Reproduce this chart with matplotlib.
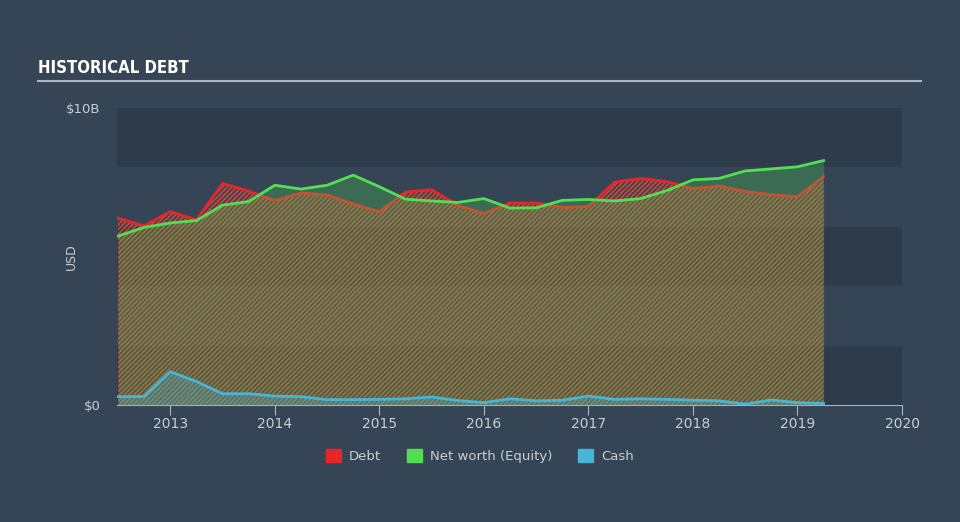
"""Historical debt chart: debt, net worth (equity) and cash, 2012-2019."""

import matplotlib

matplotlib.use("Agg")

import matplotlib.pyplot as plt
from matplotlib.patches import Patch

# quarter ends as decimal years
QUARTERS = [
    2012.50, 2012.75, 2013.00, 2013.25, 2013.50, 2013.75, 2014.00,
    2014.25, 2014.50, 2014.75, 2015.00, 2015.25, 2015.50, 2015.75,
    2016.00, 2016.25, 2016.50, 2016.75, 2017.00, 2017.25, 2017.50,
    2017.75, 2018.00, 2018.25, 2018.50, 2018.75, 2019.00, 2019.25,
]
# values in $B
DEBT = [
    6.29, 6.03, 6.51, 6.23, 7.46, 7.20, 6.88,
    7.14, 7.07, 6.77, 6.51, 7.17, 7.25, 6.72,
    6.45, 6.80, 6.80, 6.65, 6.68, 7.50, 7.63,
    7.52, 7.29, 7.37, 7.19, 7.08, 7.01, 7.69,
]
EQUITY = [
    5.69, 5.98, 6.13, 6.21, 6.73, 6.85, 7.40,
    7.27, 7.40, 7.74, 7.35, 6.93, 6.87, 6.82,
    6.95, 6.63, 6.64, 6.89, 6.92, 6.87, 6.95,
    7.22, 7.58, 7.63, 7.88, 7.95, 8.02, 8.23,
]
CASH = [
    0.28, 0.29, 1.12, 0.79, 0.38, 0.38, 0.30,
    0.28, 0.18, 0.18, 0.19, 0.21, 0.27, 0.15,
    0.08, 0.21, 0.14, 0.16, 0.30, 0.19, 0.21,
    0.19, 0.16, 0.14, 0.03, 0.17, 0.08, 0.05,
]
YEAR_TICKS = [2013, 2014, 2015, 2016, 2017, 2018, 2019, 2020]
Y_TICKS = [0, 10]
Y_TICK_LABELS = ["$0", "$10B"]

BG = "#354555"
BAND_DARK = "#2e3b4b"
TEXT = "#c8ced6"
AXIS = "#aab4c0"
RED = "#e8262a"
GREEN = "#52e052"
BLUE = "#45b5d8"


def main() -> None:
    plt.rcParams["hatch.linewidth"] = 1.0
    fig = plt.figure(figsize=(9.6, 5.22), dpi=100, facecolor=BG)
    ax = fig.add_axes([117 / 960, 117 / 522, 785 / 960, 297 / 522])
    ax.set_facecolor(BG)

    # alternating horizontal bands
    for lo in (0, 4, 8):
        ax.axhspan(lo, lo + 2, color=BAND_DARK, lw=0, zorder=0)

    ax.fill_between(QUARTERS, 0, DEBT, facecolor=(0.9, 0.15, 0.15, 0.08),
                    edgecolor=(0.95, 0.3, 0.2, 0.85), hatch="///////", lw=0, zorder=1)
    ax.plot(QUARTERS, DEBT, color=RED, lw=2, zorder=2)
    ax.fill_between(QUARTERS, 0, EQUITY, color=GREEN, alpha=0.25, lw=0, zorder=3)
    ax.plot(QUARTERS, EQUITY, color=GREEN, lw=2, zorder=4)
    ax.fill_between(QUARTERS, 0, CASH, color=BLUE, alpha=0.3, lw=0, zorder=5)
    ax.plot(QUARTERS, CASH, color=BLUE, lw=2, zorder=6)

    ax.set_xlim(2012.49, 2020)
    ax.set_ylim(0, 10)
    ax.set_xticks(YEAR_TICKS)
    ax.set_xticklabels([str(y) for y in YEAR_TICKS], color=TEXT, fontsize=10)
    ax.set_yticks(Y_TICKS)
    ax.set_yticklabels(Y_TICK_LABELS, color=TEXT, fontsize=9.5)
    ax.tick_params(axis="x", length=7, color=AXIS, pad=2)
    ax.tick_params(axis="y", length=0, pad=12)
    ax.set_ylabel("USD", color=TEXT, fontsize=9)
    ax.yaxis.set_label_coords(-39 / 785, 0.5)
    ax.spines[["top", "right", "left"]].set_visible(False)
    ax.spines["bottom"].set_color(AXIS)

    fig.text(38 / 960, 1 - 68 / 522, "HISTORICAL DEBT", color="white", fontsize=12,
             fontweight="bold", fontstretch="condensed", family="DejaVu Sans",
             va="center", ha="left")
    fig.add_artist(plt.Line2D([38 / 960, 921 / 960], [1 - 81 / 522] * 2,
                              color="#b0b6be", lw=1.5))

    handles = [
        Patch(color=RED, label="Debt"),
        Patch(color=GREEN, label="Net worth (Equity)"),
        Patch(color=BLUE, label="Cash"),
    ]
    leg = fig.legend(handles=handles, loc="center", bbox_to_anchor=(0.5, 1 - 456 / 522),
                     ncol=3, frameon=False, fontsize=9.5, handlelength=1.1,
                     handleheight=1.1, columnspacing=2.0, handletextpad=0.6)
    for t in leg.get_texts():
        t.set_color(TEXT)

    fig.savefig("out.png", dpi=100, facecolor=BG)


if __name__ == "__main__":
    main()
